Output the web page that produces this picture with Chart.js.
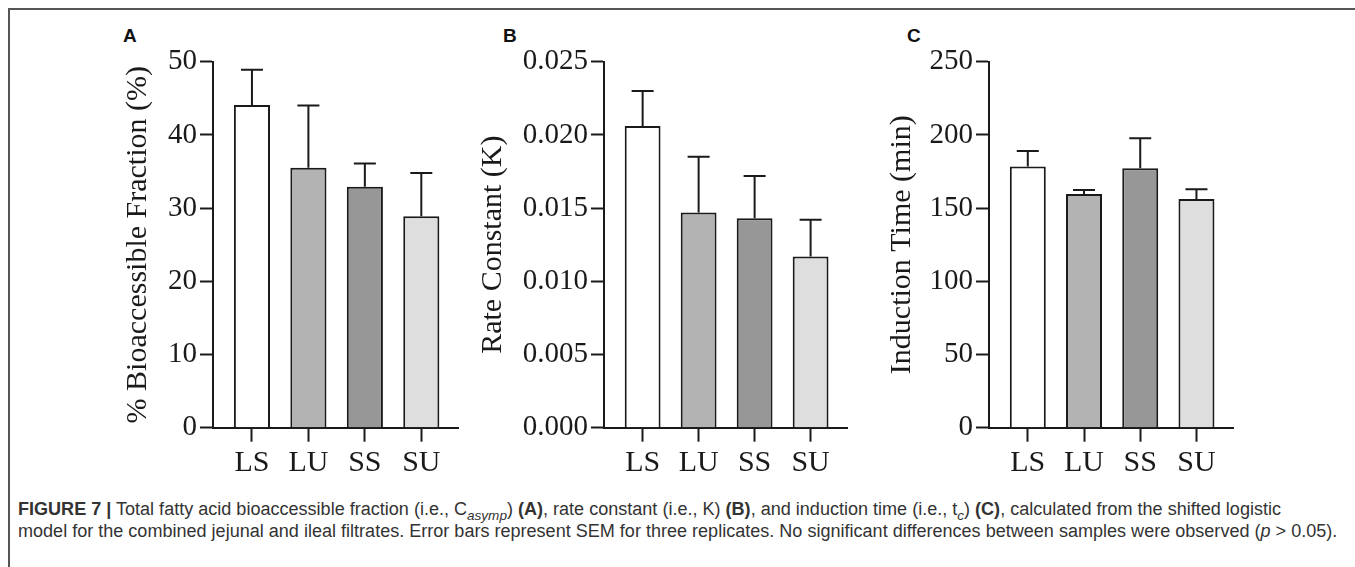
<!DOCTYPE html>
<html>
<head>
<meta charset="utf-8">
<title>Figure 7</title>
<script src="https://cdn.jsdelivr.net/npm/chart.js@4.4.0/dist/chart.umd.min.js"></script>
<style>
    html, body { margin: 0; padding: 0; background: #fff; }
    body { width: 1355px; height: 567px; position: relative; overflow: hidden; }
    .frame {
        position: absolute; left: 8px; top: 8px; width: 1360px; height: 570px;
        border-top: 2px solid #555; border-left: 2px solid #555;
    }
    .panel { position: absolute; top: 40px; }
    .letter {
        position: absolute; top: 26px;
        font: bold 19px 'Liberation Sans', Arial, sans-serif; line-height: 19px; color: #111;
    }
    .caption {
        position: absolute; left: 18px; top: 498px;
        font-family: 'Liberation Sans', Arial, sans-serif; font-size: 16px; line-height: 22px;
        color: #333; white-space: nowrap;
    }
    .caption sub { font-size: 75%; line-height: 0; }
</style>
</head>
<body>
<div class="frame"></div>

<div class="letter" style="left:123px">A</div>
<div class="letter" style="left:503px">B</div>
<div class="letter" style="left:907px">C</div>

<canvas id="chart-a" class="panel" width="380" height="450" style="left:100px"></canvas>
<canvas id="chart-b" class="panel" width="400" height="450" style="left:470px"></canvas>
<canvas id="chart-c" class="panel" width="400" height="450" style="left:860px"></canvas>

<div class="caption">
    <span id="caption-line1"><b>FIGURE 7 |</b> Total fatty acid bioaccessible fraction (i.e., C<sub><i>asymp</i></sub>) <b>(A)</b>, rate constant (i.e., K) <b>(B)</b>, and induction time (i.e., t<sub><i>c</i></sub>) <b>(C)</b>, calculated from the shifted logistic</span><br>
    <span id="caption-line2">model for the combined jejunal and ileal filtrates. Error bars represent SEM for three replicates. No significant differences between samples were observed (<i>p</i> &gt; 0.05).</span>
</div>

<script>
// Data
const categories = ['LS', 'LU', 'SS', 'SU'];
const barColors = ['#ffffff', '#b3b3b3', '#979797', '#dedede'];

const fractionMeans = [44.1, 35.5, 32.9, 28.9];
const fractionSem = [4.8, 8.5, 3.2, 5.9];
const fractionTicks = [0, 10, 20, 30, 40, 50];

const rateMeans = [0.0206, 0.0147, 0.0143, 0.0117];
const rateSem = [0.0024, 0.0038, 0.0029, 0.0025];
const rateTicks = [0, 0.005, 0.010, 0.015, 0.020, 0.025];

const inductionMeans = [178.5, 159.6, 177.2, 156.2];
const inductionSem = [10.5, 2.8, 20.5, 6.6];
const inductionTicks = [0, 50, 100, 150, 200, 250];

const inkColor = '#1a1a1a';
const serif = "'Liberation Serif', 'Times New Roman', serif";

/**
 * Draws the upper SEM whisker over each bar
 */
const errorBarPlugin = {
    id: 'errorBars',
    afterDatasetsDraw(chart) {
        const ctx = chart.ctx;
        const yScale = chart.scales.y;
        const dataset = chart.data.datasets[0];
        const meta = chart.getDatasetMeta(0);

        ctx.save();
        ctx.strokeStyle = inkColor;
        ctx.lineWidth = 2;
        meta.data.forEach((bar, i) => {
            const top = yScale.getPixelForValue(dataset.data[i].y + dataset.errors[i]);
            ctx.beginPath();
            ctx.moveTo(bar.x, bar.y);
            ctx.lineTo(bar.x, top);
            ctx.moveTo(bar.x - 11, top);
            ctx.lineTo(bar.x + 11, top);
            ctx.stroke();
        });
        ctx.restore();
    }
};

/**
 * Builds one panel of the figure
 */
function createPanel(id, means, sem, ticks, decimals, title, layout) {
    const ctx = document.getElementById(id);
    return new Chart(ctx, {
        type: 'bar',
        data: {
            datasets: [{
                data: means.map((v, i) => ({ x: i, y: v })),
                errors: sem,
                backgroundColor: barColors,
                borderColor: inkColor,
                borderWidth: 2,
                categoryPercentage: 1,
                barPercentage: 0.64,
            }]
        },
        options: {
            responsive: false,
            animation: false,
            devicePixelRatio: 1,
            layout: {
                padding: { top: 21.7, right: layout.padRight, bottom: 0, left: 0 }
            },
            plugins: {
                legend: { display: false },
                tooltip: { enabled: false },
            },
            scales: {
                x: {
                    type: 'linear',
                    offset: false,
                    min: -0.69,
                    max: 3.65,
                    afterBuildTicks: (scale) => {
                        scale.ticks = categories.map((c, i) => ({ value: i }));
                    },
                    afterFit: (scale) => { scale.height = 62.3; },
                    grid: {
                        offset: false,
                        drawOnChartArea: false,
                        tickLength: 14,
                        tickWidth: 2,
                        tickColor: inkColor,
                    },
                    border: { color: inkColor, width: 2 },
                    ticks: {
                        callback: (v) => categories[v],
                        font: { family: serif, size: 30 },
                        color: inkColor,
                        padding: 3,
                        maxRotation: 0,
                        autoSkip: false,
                    }
                },
                y: {
                    min: 0,
                    max: ticks[ticks.length - 1],
                    afterBuildTicks: (scale) => {
                        scale.ticks = ticks.map((v) => ({ value: v }));
                    },
                    afterFit: (scale) => { scale.width = layout.yWidth; },
                    grid: {
                        drawOnChartArea: false,
                        tickLength: 13,
                        tickWidth: 2,
                        tickColor: inkColor,
                    },
                    border: { color: inkColor, width: 2 },
                    ticks: {
                        callback: (v) => v.toFixed(decimals),
                        font: { family: serif, size: 29 },
                        color: inkColor,
                        padding: 3,
                    },
                    title: {
                        display: true,
                        text: title,
                        font: { family: serif, size: 30, lineHeight: 1.2 },
                        color: inkColor,
                        padding: { top: layout.titlePad, bottom: 0 },
                    }
                }
            }
        },
        plugins: [errorBarPlugin]
    });
}

/**
 * Scales the caption so its second line spans the frame
 */
function fitCaption() {
    const caption = document.querySelector('.caption');
    const line = document.getElementById('caption-line2');
    const w = line.getBoundingClientRect().width;
    caption.style.fontSize = (16 * 1320 / w) + 'px';
}

createPanel('chart-a', fractionMeans, fractionSem, fractionTicks, 0,
    '% Bioaccessible Fraction (%)', { yWidth: 113, padRight: 22, titlePad: 20 });
createPanel('chart-b', rateMeans, rateSem, rateTicks, 3,
    'Rate Constant (K)', { yWidth: 134, padRight: 23, titlePad: 5 });
createPanel('chart-c', inductionMeans, inductionSem, inductionTicks, 0,
    'Induction Time (min)', { yWidth: 129, padRight: 27, titlePad: 24 });
fitCaption();
</script>
</body>
</html>
